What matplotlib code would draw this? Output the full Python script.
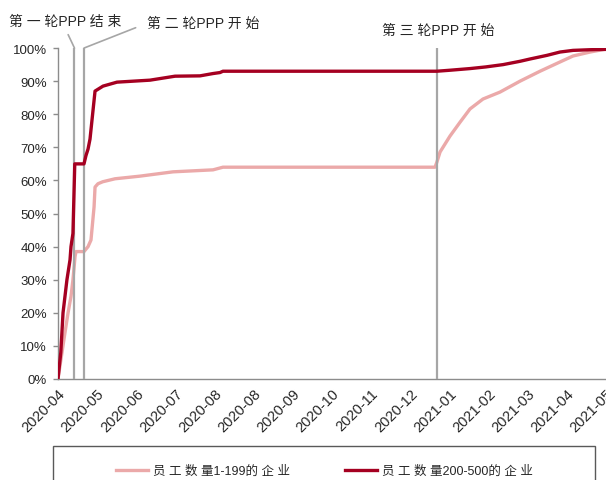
import matplotlib
matplotlib.use("Agg")
import matplotlib.pyplot as plt
from matplotlib.patches import Rectangle
from matplotlib.ticker import FuncFormatter

plt.rcParams['font.family'] = ['Liberation Sans', 'Noto Sans CJK SC', 'DejaVu Sans']

# x positions are days since the start of the series; ticks every 28 days
tick_labels = ["2020-04", "2020-05", "2020-06", "2020-07", "2020-08", "2020-08",
               "2020-09", "2020-10", "2020-11", "2020-12", "2021-01", "2021-02",
               "2021-03", "2021-04", "2021-05"]
tick_step = 28

# cumulative share of firms (%), employees 1-199
small_day = [0, 2.5, 5, 7.2, 9.3, 10.7, 12.2, 12.9, 18.6, 21.5, 23.6, 25.8, 26.5,
             28.6, 32, 40.8, 58.7, 82.3, 110.9, 118, 269.7, 271, 273.3, 280.4,
             287.6, 294.7, 304, 316.2, 330.5, 344.8, 359.1, 368.4, 380.6, 392]
small_pct = [0, 7, 14, 20, 25, 30, 37, 38.5, 38.5, 40, 42, 52, 58,
             59, 59.6, 60.5, 61.3, 62.6, 63.2, 64, 64, 65.5, 68.6, 73.4,
             77.6, 81.6, 84.6, 86.7, 90, 93, 95.8, 97.6, 98.8, 99.7]

# cumulative share of firms (%), employees 200-500
large_day = [0, 2, 3.6, 6.4, 8.6, 9.3, 10.7, 12.0, 18.6, 20.0, 21.5, 22.9, 26.5,
             32.2, 42.2, 65.8, 83.7, 101.6, 110.9, 115.9, 118, 271, 280.4, 294.7,
             306, 318.4, 330.5, 337.7, 349.8, 359.1, 368.4, 380.6, 392]
large_pct = [0, 8, 20, 30, 36, 40, 44, 65, 65, 67.5, 69.5, 72.5, 87,
             88.5, 89.7, 90.3, 91.5, 91.6, 92.3, 92.6, 93, 93, 93.3, 93.8,
             94.3, 95, 96, 96.7, 97.8, 98.8, 99.3, 99.5, 99.6]

# programme milestones (day positions)
event_day = [11.8, 18.6, 271]
event_text = ["第 一 轮PPP 结 束", "第 二 轮PPP 开 始", "第 三 轮PPP 开 始"]

series_labels = ["员 工 数 量1-199的 企 业", "员 工 数 量200-500的 企 业"]
pink = "#EBA9A9"
dark = "#A50021"
grey = "#A6A6A6"
text_c = "#262626"

fig = plt.figure(figsize=(6.06, 4.81), dpi=100)
ax = fig.add_axes([0.0957, 0.21, 0.9043, 0.688])

l1, = ax.plot(small_day, [v / 100 for v in small_pct], color=pink, lw=2.4,
              zorder=2, solid_joinstyle='round')
l2, = ax.plot(large_day, [v / 100 for v in large_pct], color=dark, lw=2.4,
              zorder=4, solid_joinstyle='round')

for d in event_day:
    ax.axvline(d, color=grey, lw=1.6, zorder=3)

ax.set_xlim(0, tick_step * (len(tick_labels) - 1))
ax.set_ylim(0, 1)
ax.set_yticks([i / 10 for i in range(11)])
ax.yaxis.set_major_formatter(FuncFormatter(lambda v, p: f"{v * 100:.0f}%"))
ax.set_xticks([i * tick_step for i in range(len(tick_labels))])
ax.set_xticklabels(tick_labels, rotation=45, ha='right', va='top',
                   rotation_mode='anchor')

for s in ['top', 'right']:
    ax.spines[s].set_visible(False)
for s in ['left', 'bottom']:
    ax.spines[s].set_color('#8C8C8C')
    ax.spines[s].set_linewidth(1.0)

ax.tick_params(axis='y', length=3.6, width=1, color='#8C8C8C', pad=4.3,
               labelsize=9.5, labelcolor=text_c)
ax.tick_params(axis='x', length=0, pad=5, labelsize=10.5, labelcolor=text_c)

# milestone labels
ax.annotate(event_text[0], xy=(event_day[0], 1.0), xycoords=('data', 'axes fraction'),
            xytext=(-6.8, 19.4), textcoords='offset points', ha='center', va='center',
            fontsize=10, color=text_c, annotation_clip=False,
            arrowprops=dict(arrowstyle='-', color=grey, lw=1.2, relpos=(0.5, 0),
                            shrinkA=3, shrinkB=0))
ax.annotate(event_text[1], xy=(event_day[1], 1.0), xycoords=('data', 'axes fraction'),
            xytext=(45.7, 18), textcoords='offset points', ha='left', va='center',
            fontsize=10, color=text_c, annotation_clip=False,
            arrowprops=dict(arrowstyle='-', color=grey, lw=1.2, relpos=(0, 0.5),
                            shrinkA=7, shrinkB=0))
ax.annotate(event_text[2], xy=(event_day[2], 1.0), xycoords=('data', 'axes fraction'),
            xytext=(0.7, 13), textcoords='offset points', ha='center', va='center',
            fontsize=10, color=text_c, annotation_clip=False)

# legend with a box running off the bottom edge
fig.legend([l1, l2], series_labels, loc='center', bbox_to_anchor=(0.535, 0.019),
           ncol=2, frameon=False, fontsize=9, handlelength=2.56, handletextpad=0.4,
           columnspacing=4.4, labelcolor=text_c)
fig.patches.append(Rectangle((53 / 606, -0.05), 542 / 606, 34 / 481 + 0.05,
                             transform=fig.transFigure, fill=False,
                             edgecolor='#595959', lw=1.0))

fig.savefig("out.png", dpi=100)
